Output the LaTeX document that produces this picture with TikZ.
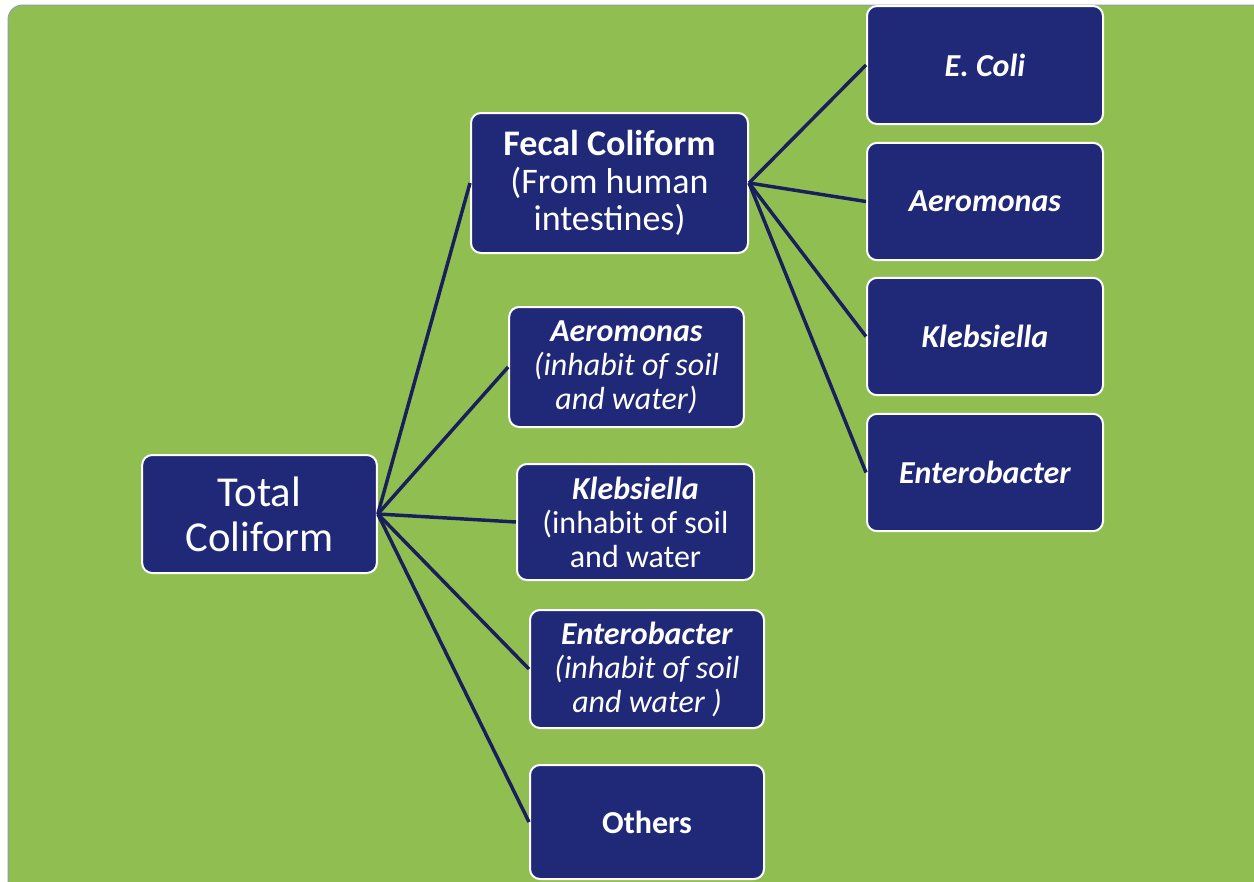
\documentclass[tikz,border=0pt]{standalone}
\usepackage{fontspec}
\setmainfont{Carlito}
\definecolor{bgGreen}{RGB}{145,190,80}
\definecolor{boxNavy}{RGB}{32,40,120}
\definecolor{linkNavy}{RGB}{24,32,92}
\definecolor{edgeGrey}{RGB}{140,160,170}
\tikzset{every picture/.style={line width=0.75pt}}
\tikzset{
cbox/.style={draw=white, line width=1.5pt, fill=boxNavy, rounded corners=7.5pt, text=white, align=center, inner sep=0pt},
clink/.style={draw=linkNavy, line width=2.6pt}}

\begin{document}
\begin{tikzpicture}[x=0.75pt,y=0.75pt,yscale=-1,xscale=1]
\clip (0,0) rectangle (1254,882);

%Shape: Background
\fill [white] (0,0) rectangle (1254,882);
\draw [draw=edgeGrey, fill=bgGreen, rounded corners=11pt] (8,5) rectangle (1275,905);

% Text Node
\node [cbox, minimum width=176pt, minimum height=88.5pt, font=\fontsize{32}{34}\selectfont] (total) at (259.5,514) {Total\\Coliform};
% Text Node
\node [cbox, minimum width=207.75pt, minimum height=105pt, font=\fontsize{27}{28}\selectfont] (fecal) at (609.5,183) {\textbf{Fecal Coliform}\\(From human\\intestines)};
% Text Node
\node [cbox, minimum width=176pt, minimum height=90pt, font=\fontsize{24}{25.5}\selectfont] (aero) at (626.5,367) {\textbf{\textit{Aeromonas}}\\\textit{(inhabit of soil}\\\textit{and water)}};
% Text Node
\node [cbox, minimum width=177.75pt, minimum height=87pt, font=\fontsize{24}{25.5}\selectfont] (kleb) at (635.5,522) {\textbf{\textit{Klebsiella}}\\(inhabit of soil\\and water};
% Text Node
\node [cbox, minimum width=175.5pt, minimum height=88.5pt, font=\fontsize{24}{25.5}\selectfont] (entero) at (647,669) {\textbf{\textit{Enterobacter}}\\\textit{(inhabit of soil}\\\textit{and water )}};
% Text Node
\node [cbox, minimum width=175.5pt, minimum height=85.5pt, font=\fontsize{24}{26}\selectfont] (others) at (647,822) {\textbf{Others}};

% Text Node
\node [cbox, minimum width=177pt, minimum height=88.5pt, font=\fontsize{24}{26}\selectfont] (ecoli) at (985,65) {\textbf{\textit{E. Coli}}};
% Text Node
\node [cbox, minimum width=177pt, minimum height=88pt, font=\fontsize{24}{26}\selectfont] (aeroR) at (985,201.5) {\textbf{\textit{Aeromonas}}};
% Text Node
\node [cbox, minimum width=177pt, minimum height=88pt, font=\fontsize{24}{26}\selectfont] (klebR) at (985,336.5) {\textbf{\textit{Klebsiella}}};
% Text Node
\node [cbox, minimum width=177pt, minimum height=88pt, font=\fontsize{24}{26}\selectfont] (enteroR) at (985,472.5) {\textbf{\textit{Enterobacter}}};

%Straight Lines
\draw [clink] (total.east) -- (fecal.west) ;
%Straight Lines
\draw [clink] (total.east) -- (aero.west) ;
%Straight Lines
\draw [clink] (total.east) -- (kleb.west) ;
%Straight Lines
\draw [clink] (total.east) -- (entero.west) ;
%Straight Lines
\draw [clink] (total.east) -- (others.west) ;

%Straight Lines
\draw [clink] (fecal.east) -- (ecoli.west) ;
%Straight Lines
\draw [clink] (fecal.east) -- (aeroR.west) ;
%Straight Lines
\draw [clink] (fecal.east) -- (klebR.west) ;
%Straight Lines
\draw [clink] (fecal.east) -- (enteroR.west) ;

\end{tikzpicture}
\end{document}
